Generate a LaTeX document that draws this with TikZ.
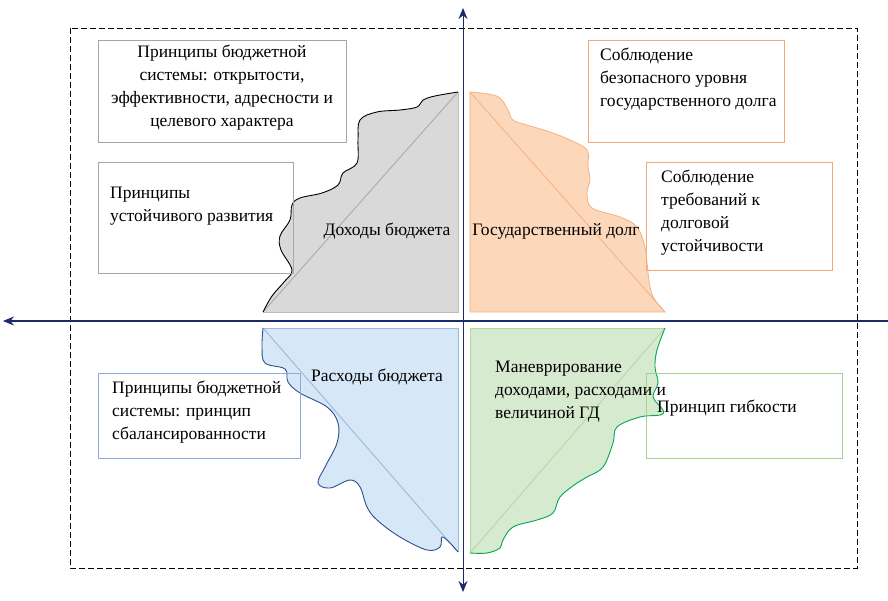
\documentclass[tikz,border=0pt]{standalone}
\usepackage{fontspec}
\setmainfont{Liberation Serif}
\usetikzlibrary{arrows.meta}
\definecolor{axisc}{HTML}{1B2A6B}
\definecolor{grayfill}{HTML}{D9D9D9}
\definecolor{grayedge}{HTML}{BFBFBF}
\definecolor{graydiag}{HTML}{A6A6A6}
\definecolor{grayboxc}{HTML}{A6A6A6}
\definecolor{orfill}{HTML}{FCD7BA}
\definecolor{oredge}{HTML}{F4B183}
\definecolor{orbox}{HTML}{F4A878}
\definecolor{blfill}{HTML}{D6E7F7}
\definecolor{bledge}{HTML}{2E4F8F}
\definecolor{bldiag}{HTML}{9DB8DA}
\definecolor{blbox}{HTML}{8FAADC}
\definecolor{grfill}{HTML}{D6EACF}
\definecolor{gredge}{HTML}{00A651}
\definecolor{grdiag}{HTML}{B5D6A7}
\definecolor{grbox}{HTML}{A9D18E}
\tikzset{
  pbox/.style={draw, line width=0.9pt, minimum width=#1, inner sep=0pt},
  txt/.style={font=\fontsize{17.5}{23}\selectfont, inner sep=0pt},
  axis/.style={draw=axisc, line width=1pt},
  tip/.style={-{Stealth[length=11pt,width=9pt]}}
}
\begin{document}
\begin{tikzpicture}[x=1pt,y=-1pt]
\useasboundingbox (0,0) rectangle (888,601);

% dashed frame
\draw[dash pattern=on 6pt off 3pt, line width=0.9pt] (70,28) rectangle (857,568);

% ---- top-left gray shape
\fill[grayfill] plot[smooth, tension=0.6] coordinates {(263,312) (272,296) (284,282) (292,270) (281,250) (280,236) (290,220) (292,205) (300,198) (322,193) (338,185) (343,173) (357,163) (358,140) (360,120) (377,112) (400,110) (417,107) (423,100) (435,96) (458,92)} -- (458,312) -- cycle;
\draw[grayedge, line width=0.8pt] (458,92) -- (458,312) -- (263,312);
\draw[graydiag, line width=0.8pt] (263,312) -- (458,92);
\draw[black, line width=0.9pt] plot[smooth, tension=0.6] coordinates {(263,312) (272,296) (284,282) (292,270) (281,250) (280,236) (290,220) (292,205) (300,198) (322,193) (338,185) (343,173) (357,163) (358,140) (360,120) (377,112) (400,110) (417,107) (423,100) (435,96) (458,92)};

% ---- top-right orange shape
\fill[orfill] plot[smooth, tension=0.6] coordinates {(470,92) (488,94) (500,98) (508,110) (513,120) (527,125) (550,132) (570,140) (587,150) (588,167) (590,180) (587,193) (592,208) (620,217) (637,227) (645,247) (647,263) (650,287) (655,300) (665,312)} -- (470,312) -- cycle;
\draw[oredge, line width=0.8pt] plot[smooth, tension=0.6] coordinates {(470,92) (488,94) (500,98) (508,110) (513,120) (527,125) (550,132) (570,140) (587,150) (588,167) (590,180) (587,193) (592,208) (620,217) (637,227) (645,247) (647,263) (650,287) (655,300) (665,312)} -- (470,312) -- cycle;
\draw[oredge, line width=0.8pt] (470,92) -- (665,312);

% ---- bottom-left blue shape
\fill[blfill] plot[smooth, tension=0.6] coordinates {(263,328) (262,347) (265,363) (285,369) (288,382) (300,393) (327,407) (338,423) (337,443) (325,467) (318,483) (330,488) (350,480) (360,487) (367,507) (377,520) (400,537) (427,550) (440,547) (442,537) (450,543) (458,552)} -- (458,328) -- cycle;
\draw[bldiag, line width=0.8pt] (458,552) -- (458,328) -- (263,328);
\draw[bldiag, line width=0.9pt] (263,328) -- (458,552);
\draw[bledge, line width=0.9pt] plot[smooth, tension=0.6] coordinates {(263,328) (262,347) (265,363) (285,369) (288,382) (300,393) (327,407) (338,423) (337,443) (325,467) (318,483) (330,488) (350,480) (360,487) (367,507) (377,520) (400,537) (427,550) (440,547) (442,537) (450,543) (458,552)};

% ---- bottom-right green shape
\fill[grfill] plot[smooth, tension=0.6] coordinates {(665,328) (657,350) (655,367) (658,383) (653,397) (663,410) (660,415) (640,417) (617,427) (613,443) (603,467) (587,477) (577,483) (560,497) (553,513) (537,520) (513,527) (503,540) (500,548) (487,553) (470,553)} -- (470,328) -- cycle;
\draw[grdiag, line width=0.8pt] (470,553) -- (470,328) -- (665,328);
\draw[grdiag, line width=0.8pt] (470,553) -- (665,328);
\draw[gredge, line width=0.9pt] plot[smooth, tension=0.6] coordinates {(665,328) (657,350) (655,367) (658,383) (653,397) (663,410) (660,415) (640,417) (617,427) (613,443) (603,467) (587,477) (577,483) (560,497) (553,513) (537,520) (513,527) (503,540) (500,548) (487,553) (470,553)};

% ---- boxes
\node[pbox=248pt, draw=grayboxc, minimum height=102pt, anchor=north west] (b1) at (98,40) {};
\node[txt, align=center] (t1) at (222,88) {Принципы бюджетной\\системы: открытости,\\эффективности, адресности и\\целевого характера};

\node[pbox=195pt, draw=grayboxc, minimum height=111pt, anchor=north west] (b2) at (98,162) {};
\node[txt, align=left, anchor=north west] (t2) at (110,187) {Принципы\\устойчивого развития};

\node[pbox=196pt, draw=orbox, minimum height=102pt, anchor=north west] (b3) at (588,40) {};
\node[txt, align=left, anchor=north west] (t3) at (600,48) {Соблюдение\\безопасного уровня\\государственного долга};

\node[pbox=186pt, draw=orbox, minimum height=108pt, anchor=north west] (b4) at (646,162) {};
\node[txt, align=left, anchor=north west] (t4) at (661,170) {Соблюдение\\требований к\\долговой\\устойчивости};

\node[pbox=202pt, draw=blbox, minimum height=85pt, anchor=north west] (b5) at (98,373) {};
\node[txt, align=left, anchor=north west] (t5) at (112,381) {Принципы бюджетной\\системы: принцип\\сбалансированности};

\node[pbox=196pt, draw=grbox, minimum height=85pt, anchor=north west] (b6) at (646,373) {};
\node[txt, anchor=west] (t6) at (657,408) {Принцип гибкости};

% ---- quadrant labels
\node[txt] (q1) at (387,231) {Доходы бюджета};
\node[txt] (q2) at (556,231) {Государственный долг};
\node[txt] (q3) at (377,377) {Расходы бюджета};
\node[txt, align=left, anchor=north west] (q4) at (495,361) {Маневрирование\\доходами, расходами и\\величиной ГД};

% ---- axes
\coordinate (top) at (463,8);
\coordinate (bot) at (463,592);
\coordinate (lft) at (3,321);
\coordinate (rgt) at (888,321);
\coordinate (ctr) at (463,321);
\draw[axis, tip] (ctr) -- (top);
\draw[axis, tip] (ctr) -- (bot);
\draw[axis, tip] (rgt) -- (lft);
\end{tikzpicture}
\end{document}
